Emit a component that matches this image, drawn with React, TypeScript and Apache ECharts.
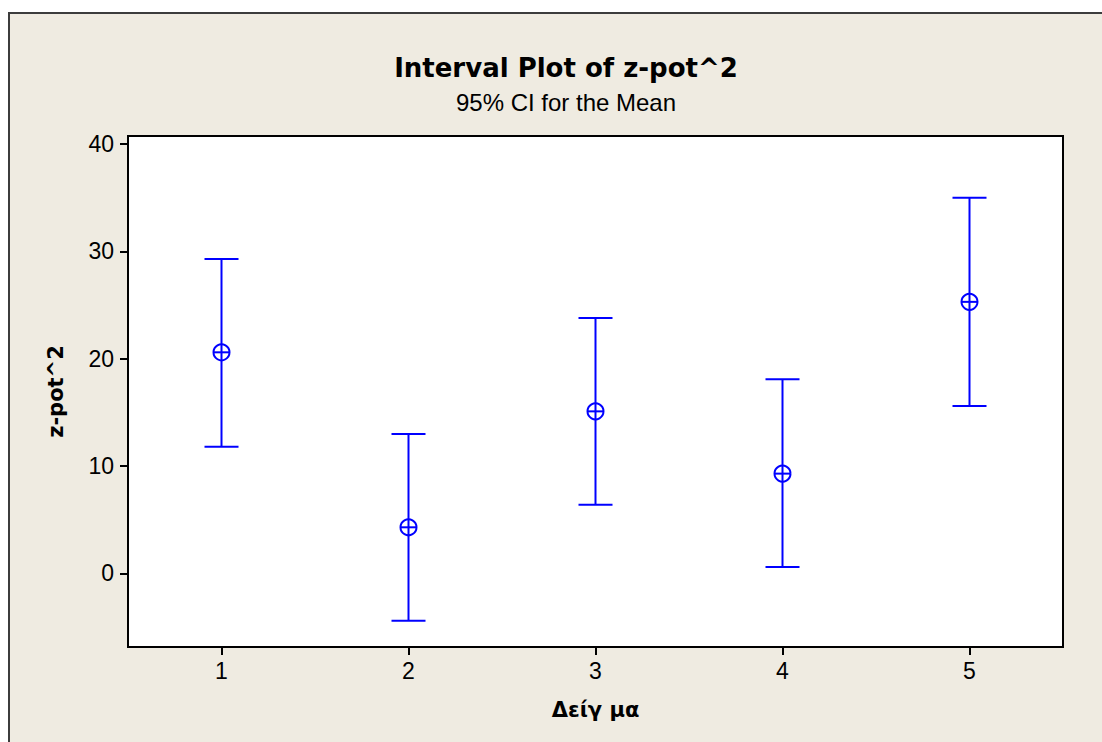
import React, { useEffect, useRef } from "react";
import * as echarts from "echarts";

const categories = [1, 2, 3, 4, 5];
const lowerCI = [11.8, -4.4, 6.4, 0.6, 15.6];
const means = [20.6, 4.3, 15.1, 9.3, 25.3];
const upperCI = [29.3, 13.0, 23.8, 18.1, 35.0];
const yTicks = [0, 10, 20, 30, 40];
const xTicks = [1, 2, 3, 4, 5];

const BOLD_FONT = "'DejaVu Sans', sans-serif";
const FONT = "'Liberation Sans', Arial, sans-serif";
const BLUE = "#0000FF";

export default function App() {
  const ref = useRef<HTMLDivElement>(null);
  useEffect(() => {
    if (!ref.current) return;
    const chart = echarts.init(ref.current, null, { renderer: "svg" });
    const data = categories.map((c, i) => [c, lowerCI[i], means[i], upperCI[i]]);
    chart.setOption({
      animation: false,
      backgroundColor: "transparent",
      title: [
        {
          text: "Interval Plot of z-pot^2",
          left: 561,
          top: 50,
          textAlign: "center",
          textStyle: { fontFamily: BOLD_FONT, fontSize: 26, fontWeight: "bold", color: "#000" },
        },
        {
          text: "95% CI for the Mean",
          left: 561,
          top: 85,
          textAlign: "center",
          textStyle: { fontFamily: FONT, fontSize: 24, fontWeight: "normal", color: "#000" },
        },
      ],
      grid: {
        left: 128,
        right: 39,
        top: 136,
        bottom: 95,
        show: true,
        backgroundColor: "#fff",
        borderColor: "#000",
        borderWidth: 2,
      },
      xAxis: {
        type: "value",
        min: 0.5,
        max: 5.5,
        name: "Δείγ μα",
        nameLocation: "middle",
        nameGap: 52,
        nameTextStyle: { fontFamily: BOLD_FONT, fontSize: 21, fontWeight: "bold", color: "#000" },
        axisLine: { show: false, onZero: false },
        splitLine: { show: false },
        axisTick: { show: true, length: 8, lineStyle: { color: "#000", width: 2 }, customValues: xTicks },
        axisLabel: { fontFamily: FONT, fontSize: 23, color: "#000", margin: 12, customValues: xTicks },
      },
      yAxis: {
        type: "value",
        min: -6.85,
        max: 40.75,
        name: "z-pot^2",
        nameLocation: "middle",
        nameRotate: 90,
        nameGap: 62,
        nameTextStyle: { fontFamily: BOLD_FONT, fontSize: 21, fontWeight: "bold", color: "#000" },
        axisLine: { show: false, onZero: false },
        splitLine: { show: false },
        axisTick: { show: true, length: 8, lineStyle: { color: "#000", width: 2 }, customValues: yTicks },
        axisLabel: { fontFamily: FONT, fontSize: 23, color: "#000", margin: 14, customValues: yTicks },
      },
      series: [
        {
          type: "custom",
          clip: false,
          data,
          encode: { x: 0, y: [1, 2, 3] },
          renderItem: (params: any, api: any) => {
            const x = api.value(0);
            const pLo = api.coord([x, api.value(1)]);
            const pM = api.coord([x, api.value(2)]);
            const pHi = api.coord([x, api.value(3)]);
            const cap = 17;
            const r = 8;
            const ls = { stroke: BLUE, lineWidth: 2 };
            return {
              type: "group",
              children: [
                { type: "line", shape: { x1: pHi[0], y1: pHi[1], x2: pLo[0], y2: pLo[1] }, style: ls },
                { type: "line", shape: { x1: pHi[0] - cap, y1: pHi[1], x2: pHi[0] + cap, y2: pHi[1] }, style: ls },
                { type: "line", shape: { x1: pLo[0] - cap, y1: pLo[1], x2: pLo[0] + cap, y2: pLo[1] }, style: ls },
                { type: "circle", shape: { cx: pM[0], cy: pM[1], r }, style: { fill: "none", stroke: BLUE, lineWidth: 2 } },
                { type: "line", shape: { x1: pM[0] - r, y1: pM[1], x2: pM[0] + r, y2: pM[1] }, style: ls },
              ],
            };
          },
        },
      ],
    });
    return () => chart.dispose();
  }, []);

  return (
    <div style={{ position: "fixed", left: 0, top: 0, width: 1102, height: 742, background: "#fff", overflow: "hidden" }}>
      <div
        style={{
          position: "absolute",
          left: 8,
          top: 12,
          width: 1200,
          height: 900,
          background: "#EFEBE1",
          border: "2px solid #3c3c3c",
        }}
      />
      <div ref={ref} style={{ position: "absolute", left: 0, top: 0, width: 1102, height: 742 }} />
    </div>
  );
}
